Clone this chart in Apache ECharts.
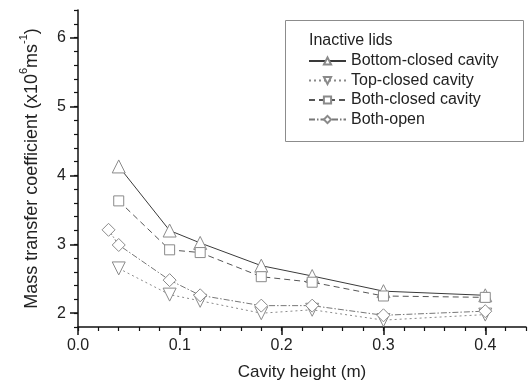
<!DOCTYPE html>
<html>
<head>
<meta charset="utf-8">
<style>
  html, body { margin: 0; padding: 0; background: #fff; }
  #chart { width: 529px; height: 386px; }
</style>
<script src="https://cdn.jsdelivr.net/npm/echarts@6/dist/echarts.min.js"></script>
</head>
<body>
<div id="chart"></div>
<script>
// Cavity heights (m) and mass transfer coefficients (x10^6 m/s)
const heights = [0.04, 0.09, 0.12, 0.18, 0.23, 0.30, 0.40];
const heightsOpen = [0.03, 0.04, 0.09, 0.12, 0.18, 0.23, 0.30, 0.40];
const bottomClosed = [4.13, 3.20, 3.02, 2.69, 2.54, 2.32, 2.26];
const topClosed = [2.65, 2.27, 2.18, 2.00, 2.05, 1.90, 1.98];
const bothClosed = [3.63, 2.92, 2.88, 2.53, 2.45, 2.25, 2.23];
const bothOpen = [3.21, 2.99, 2.48, 2.26, 2.11, 2.11, 1.97, 2.03];
const xTicks = [0, 0.1, 0.2, 0.3, 0.4];
const yTicks = [2, 3, 4, 5, 6];

const FONT = 'Liberation Sans, Arial, sans-serif';
const pairs = (xs, ys) => xs.map((x, i) => [x, ys[i]]);

const chart = echarts.init(document.getElementById('chart'), null, { renderer: 'canvas' });

function makeSeries(name, xs, ys, symbol, size, rotate, color, dash) {
  return {
    name: name,
    type: 'line',
    xAxisIndex: 0,
    yAxisIndex: 0,
    data: pairs(xs, ys),
    symbol: symbol,
    symbolSize: size,
    symbolRotate: rotate,
    showAllSymbol: true,
    lineStyle: { color: color, width: 1, type: dash },
    itemStyle: { color: '#fff', borderColor: '#8a8a8a', borderWidth: 1 },
    emphasis: { disabled: true },
    animation: false,
    z: 3
  };
}

const axisLine = { show: true, lineStyle: { color: '#111', width: 1.5 } };

chart.setOption({
  animation: false,
  title: {
    text: 'Inactive lids',
    left: 309, top: 33,
    textStyle: { fontFamily: FONT, fontSize: 16, fontWeight: 'normal', color: '#222' },
    padding: 0
  },
  graphic: [{
    type: 'rect',
    shape: { x: 285.5, y: 20.5, width: 238, height: 121 },
    style: { fill: 'none', stroke: '#8c8c8c', lineWidth: 1 },
    silent: true
  }],
  legend: {
    orient: 'vertical',
    left: 308, top: 53,
    itemWidth: 37, itemHeight: 9, itemGap: 3.5,
    padding: 0,
    selectedMode: false,
    textStyle: { fontFamily: FONT, fontSize: 16, color: '#222', padding: [0, 0, 0, 0] },
    data: ['Bottom-closed cavity', 'Top-closed cavity', 'Both-closed cavity', 'Both-open']
  },
  grid: { left: 78, right: 3, top: 10, bottom: 57, containLabel: false },
  xAxis: [{
    type: 'value', position: 'bottom', min: 0, max: 0.44,
    axisLine: axisLine,
    axisTick: { show: true, inside: false, length: 8, customValues: xTicks, lineStyle: { color: '#111', width: 1.5 } },
    axisLabel: { customValues: xTicks, margin: 11, formatter: v => v.toFixed(1), fontFamily: FONT, fontSize: 16, color: '#222' },
    splitLine: { show: false },
    name: 'Cavity height (m)', nameLocation: 'middle', nameGap: 37,
    nameTextStyle: { fontFamily: FONT, fontSize: 17, color: '#222' }
  }, {
    type: 'value', position: 'bottom', min: 0, max: 0.44, interval: 0.02,
    axisLine: { show: false },
    axisTick: { show: true, length: 4, lineStyle: { color: '#111', width: 1.2 } },
    axisLabel: { show: false },
    splitLine: { show: false }
  }],
  yAxis: [{
    type: 'value', position: 'left', min: 1.8, max: 6.4,
    axisLine: axisLine,
    axisTick: { show: true, inside: false, length: 8, customValues: yTicks, lineStyle: { color: '#111', width: 1.5 } },
    axisLabel: { customValues: yTicks, margin: 12, formatter: v => String(v), fontFamily: FONT, fontSize: 16, color: '#222' },
    splitLine: { show: false },
    name: '{n|Mass transfer coefficient (x10}{s|6}{n|ms}{s|-1}{n|)}',
    nameLocation: 'middle', nameGap: 37, nameRotate: 90,
    nameTextStyle: {
      fontFamily: FONT, fontSize: 18, color: '#222',
      rich: {
        n: { fontFamily: FONT, fontSize: 18, color: '#222', lineHeight: 23, verticalAlign: 'bottom' },
        s: { fontFamily: FONT, fontSize: 11, color: '#222', lineHeight: 23, verticalAlign: 'top' }
      }
    }
  }, {
    type: 'value', position: 'left', min: 1.8, max: 6.4, interval: 0.2,
    axisLine: { show: false },
    axisTick: { show: true, length: 4, lineStyle: { color: '#111', width: 1.2 } },
    axisLabel: { show: false },
    splitLine: { show: false }
  }],
  series: [
    makeSeries('Bottom-closed cavity', heights, bottomClosed, 'triangle', 13, 0, '#3a3a3a', 'solid'),
    makeSeries('Top-closed cavity', heights, topClosed, 'triangle', 13, 180, '#8a8a8a', [2, 3]),
    makeSeries('Both-closed cavity', heights, bothClosed, 'rect', 10, 0, '#555555', [6, 4]),
    makeSeries('Both-open', heightsOpen, bothOpen, 'diamond', 13, 0, '#777777', [6, 2, 1.5, 2])
  ]
});
</script>
</body>
</html>
